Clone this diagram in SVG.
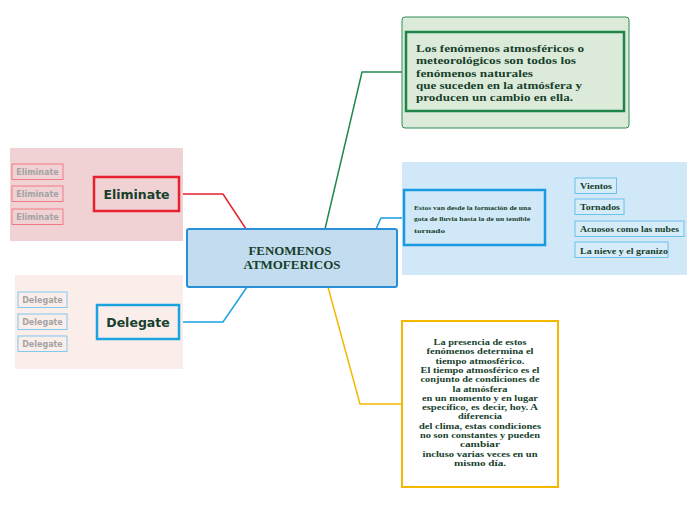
<svg xmlns="http://www.w3.org/2000/svg" width="696" height="520" viewBox="0 0 696 520">
<style>
.serif{font-family:"Liberation Serif","DejaVu Serif",serif;font-weight:bold;fill:#173f2c}
.sans{font-family:"DejaVu Sans","Liberation Sans",sans-serif;font-weight:bold}
.conn{fill:none;stroke-width:1.5}
.sub{fill:#173f2c;font-size:8.5px}
.gray{fill:#a3a3a3;font-size:8px}
</style>
<rect width="696" height="520" fill="#ffffff"/>
<g id="connectors">
<polyline class="conn" stroke="#1f8a4c" points="325,229 362,72 402,72"/>
<polyline class="conn" stroke="#1a9ae0" points="376,229 381,218 404,218"/>
<polyline class="conn" stroke="#f5b800" points="328,287 360,404 402,404"/>
<polyline class="conn" stroke="#e8212e" points="179,194 223,194 246,229"/>
<polyline class="conn" stroke="#1aa3e0" points="179,322 223,322 247,287"/>
<g stroke="#6cc0ec" stroke-width="1" fill="none">
<line x1="545" y1="218" x2="560" y2="218"/>
<line x1="560" y1="218" x2="575" y2="186"/>
<line x1="560" y1="218" x2="575" y2="207"/>
<line x1="560" y1="218" x2="575" y2="229"/>
<line x1="560" y1="218" x2="575" y2="250"/>
</g>
<g stroke="#ef7b82" stroke-width="1" fill="none">
<line x1="94" y1="194" x2="80" y2="194"/>
<polyline points="63,172 80,172 80,216 63,216"/>
<line x1="80" y1="194" x2="63" y2="194"/>
</g>
<g stroke="#7fcaee" stroke-width="1" fill="none">
<line x1="97" y1="322" x2="85" y2="322"/>
<polyline points="67,300 85,300 85,344 67,344"/>
<line x1="85" y1="322" x2="67" y2="322"/>
</g>
</g>
<g id="central">
<rect x="187" y="229" width="210" height="58" rx="2" fill="#c3dcef" stroke="#2a8fd6" stroke-width="2"/>
<text class="serif" x="248.5" y="255" font-size="11.5" textLength="83" lengthAdjust="spacingAndGlyphs">FENOMENOS</text>
<text class="serif" x="243.5" y="269" font-size="11.5" textLength="97" lengthAdjust="spacingAndGlyphs">ATMOFERICOS</text>
</g>
<g id="green">
<rect x="402" y="17" width="227" height="111" rx="3" fill="#dcebd9" stroke="#2e8b57" stroke-width="1"/>
<rect x="406" y="32" width="218" height="79" fill="#dcebd9" stroke="#1e8449" stroke-width="2.5"/>
<g class="serif" font-size="11" lengthAdjust="spacingAndGlyphs">
<text x="416" y="52" textLength="168" lengthAdjust="spacingAndGlyphs">Los fenómenos atmosféricos o</text>
<text x="416" y="64.3" textLength="160" lengthAdjust="spacingAndGlyphs">meteorológicos son todos los</text>
<text x="416" y="76.6" textLength="117" lengthAdjust="spacingAndGlyphs">fenómenos naturales</text>
<text x="416" y="88.9" textLength="166" lengthAdjust="spacingAndGlyphs">que suceden en la atmósfera y</text>
<text x="416" y="101.2" textLength="157" lengthAdjust="spacingAndGlyphs">producen un cambio en ella.</text>
</g>
</g>
<g id="blue">
<rect x="402" y="162" width="285" height="113" fill="#d0e8f7"/>
<rect x="404" y="190" width="141" height="55" fill="#d0e8f7" stroke="#1a9ae0" stroke-width="2.5"/>
<g class="serif" font-size="6.3">
<text x="414" y="209.5" textLength="117" lengthAdjust="spacingAndGlyphs">Estos van desde la formación de una</text>
<text x="414" y="221" textLength="116" lengthAdjust="spacingAndGlyphs">gota de lluvia hasta la de un temible</text>
<text x="414" y="232.5" textLength="31" lengthAdjust="spacingAndGlyphs">tornado</text>
</g>
</g>
<g id="vientos">
<rect x="575" y="178" width="41.5" height="15.5" fill="#d6ecf9" stroke="#6cc0ec"/>
<text class="serif sub" x="580" y="189" textLength="32" lengthAdjust="spacingAndGlyphs">Vientos</text>
</g>
<g id="tornados">
<rect x="575" y="199" width="49" height="15.5" fill="#d6ecf9" stroke="#6cc0ec"/>
<text class="serif sub" x="580" y="210" textLength="40" lengthAdjust="spacingAndGlyphs">Tornados</text>
</g>
<g id="acuosos">
<rect x="575" y="221" width="109" height="15.5" fill="#d6ecf9" stroke="#6cc0ec"/>
<text class="serif sub" x="580" y="232" textLength="99" lengthAdjust="spacingAndGlyphs">Acuosos como las nubes</text>
</g>
<g id="nieve">
<rect x="575" y="242" width="93" height="15.5" fill="#d6ecf9" stroke="#6cc0ec"/>
<text class="serif sub" x="580" y="253.5" textLength="88" lengthAdjust="spacingAndGlyphs">La nieve y el granizo</text>
</g>
<g id="yellow">
<rect x="402" y="321" width="156" height="166" fill="#ffffff" stroke="#f5b800" stroke-width="2"/>
<g class="serif" font-size="8.6" text-anchor="middle">
<text x="480" y="345" textLength="93" lengthAdjust="spacingAndGlyphs">La presencia de estos</text>
<text x="480" y="354.3" textLength="107" lengthAdjust="spacingAndGlyphs">fenómenos determina el</text>
<text x="480" y="363.6" textLength="89" lengthAdjust="spacingAndGlyphs">tiempo atmosférico.</text>
<text x="480" y="372.9" textLength="119" lengthAdjust="spacingAndGlyphs">El tiempo atmosférico es el</text>
<text x="480" y="382.2" textLength="119" lengthAdjust="spacingAndGlyphs">conjunto de condiciones de</text>
<text x="480" y="391.5" textLength="55" lengthAdjust="spacingAndGlyphs">la atmósfera</text>
<text x="480" y="400.8" textLength="116" lengthAdjust="spacingAndGlyphs">en un momento y en lugar</text>
<text x="480" y="410.1" textLength="116" lengthAdjust="spacingAndGlyphs">específico, es decir, hoy. A</text>
<text x="480" y="419.4" textLength="44" lengthAdjust="spacingAndGlyphs">diferencia</text>
<text x="480" y="428.7" textLength="122" lengthAdjust="spacingAndGlyphs">del clima, estas condiciones</text>
<text x="480" y="438" textLength="120" lengthAdjust="spacingAndGlyphs">no son constantes y pueden</text>
<text x="480" y="447.3" textLength="40" lengthAdjust="spacingAndGlyphs">cambiar</text>
<text x="480" y="456.6" textLength="115" lengthAdjust="spacingAndGlyphs">incluso varias veces en un</text>
<text x="480" y="465.9" textLength="52" lengthAdjust="spacingAndGlyphs">mismo día.</text>
</g>
</g>
<g id="eliminate">
<rect x="10" y="148" width="173" height="93" fill="#f0d2d4"/>
<rect x="94" y="177" width="85" height="34" fill="#f0d2d4" stroke="#e8212e" stroke-width="2.5"/>
<text class="sans" x="136.5" y="199" text-anchor="middle" font-size="12.5" fill="#173f2c">Eliminate</text>
</g>
<g id="eliminate1">
<rect x="12" y="164" width="51" height="15.5" fill="#f0d2d4" stroke="#ef7b82"/>
<text class="sans gray" x="37.5" y="175" text-anchor="middle">Eliminate</text>
</g>
<g id="eliminate2">
<rect x="12" y="186" width="51" height="15.5" fill="#f0d2d4" stroke="#ef7b82"/>
<text class="sans gray" x="37.5" y="197" text-anchor="middle">Eliminate</text>
</g>
<g id="eliminate3">
<rect x="12" y="209" width="51" height="15.5" fill="#f0d2d4" stroke="#ef7b82"/>
<text class="sans gray" x="37.5" y="220" text-anchor="middle">Eliminate</text>
</g>
<g id="delegate">
<rect x="15" y="275" width="168" height="94" fill="#fbeeea"/>
<rect x="97" y="305" width="82" height="34" fill="#fbeeea" stroke="#1aa3e0" stroke-width="2.5"/>
<text class="sans" x="138" y="327" text-anchor="middle" font-size="12.5" fill="#173f2c">Delegate</text>
</g>
<g id="delegate1">
<rect x="18" y="292" width="49" height="15.5" fill="#fbeeea" stroke="#7fcaee"/>
<text class="sans gray" x="42.5" y="303" text-anchor="middle">Delegate</text>
</g>
<g id="delegate2">
<rect x="18" y="314" width="49" height="15.5" fill="#fbeeea" stroke="#7fcaee"/>
<text class="sans gray" x="42.5" y="325" text-anchor="middle">Delegate</text>
</g>
<g id="delegate3">
<rect x="18" y="336" width="49" height="15.5" fill="#fbeeea" stroke="#7fcaee"/>
<text class="sans gray" x="42.5" y="347" text-anchor="middle">Delegate</text>
</g>
</svg>
